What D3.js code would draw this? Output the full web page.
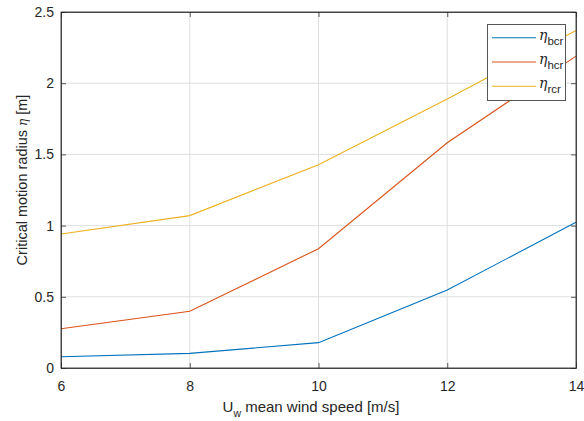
<!DOCTYPE html>
<html><head><meta charset="utf-8">
<script src="https://cdn.jsdelivr.net/npm/d3@7"></script>
<style>body{margin:0;background:#fff}svg{display:block}text{font-family:"Liberation Sans",Arial,sans-serif;fill:#262626}</style>
</head><body><svg id="c" width="584" height="421"></svg>
<script>
const windSpeed = [6, 8, 10, 12, 14];
const etaB = [0.079, 0.103, 0.178, 0.548, 1.023];
const etaH = [0.276, 0.398, 0.838, 1.582, 2.19];
const etaR = [0.941, 1.07, 1.428, 1.889, 2.37];
const xTicks = [6, 8, 10, 12, 14];
const yTicks = [0, 0.5, 1, 1.5, 2, 2.5];
const seriesNames = ["bcr", "hcr", "rcr"];
const colors = ["#0072BD", "#D95319", "#EDB120"];

const svg = d3.select("#c");
const L = 61, R = 576, T = 12, B = 368;
const x = d3.scaleLinear().domain([6, 14]).range([L, R]);
const y = d3.scaleLinear().domain([0, 2.5]).range([B, T]);

// grid
const g = svg.append("g");
g.selectAll(".vg").data(xTicks).enter().append("line")
  .attr("x1", d => x(d)).attr("x2", d => x(d)).attr("y1", T).attr("y2", B)
  .attr("stroke", "#dfdfdf").attr("stroke-width", 1);
g.selectAll(".hg").data(yTicks).enter().append("line")
  .attr("y1", d => y(d)).attr("y2", d => y(d)).attr("x1", L).attr("x2", R)
  .attr("stroke", "#dfdfdf").attr("stroke-width", 1);

// lines
const line = d3.line().x((d, i) => x(windSpeed[i])).y(d => y(d));
[etaB, etaH, etaR].forEach((s, i) => {
  svg.append("path").datum(s).attr("d", line).attr("fill", "none")
    .attr("stroke", colors[i]).attr("stroke-width", 1.1);
});

// axes with inward ticks
const ax = svg.append("g").attr("transform", `translate(0,${B})`)
  .call(d3.axisBottom(x).tickValues(xTicks).tickSizeInner(-5).tickSizeOuter(0).tickPadding(13));
const axT = svg.append("g").attr("transform", `translate(0,${T})`)
  .call(d3.axisTop(x).tickValues(xTicks).tickSizeInner(-5).tickSizeOuter(0).tickFormat(""));
const ay = svg.append("g").attr("transform", `translate(${L},0)`)
  .call(d3.axisLeft(y).tickValues(yTicks).tickSizeInner(-5).tickSizeOuter(0).tickPadding(7).tickFormat(d => d));
const ayR = svg.append("g").attr("transform", `translate(${R},0)`)
  .call(d3.axisRight(y).tickValues(yTicks).tickSizeInner(-5).tickSizeOuter(0).tickFormat(""));
[ax, axT, ay, ayR].forEach(a => {
  a.select(".domain").attr("stroke", "#262626").attr("stroke-width", 1).attr("opacity", 0.75);
  a.selectAll(".tick line").attr("stroke", "#262626").attr("opacity", 0.75);
  a.selectAll("text").attr("font-size", 14).attr("fill", "#262626")
    .attr("font-family", "'Liberation Sans',Arial,sans-serif");
});
svg.append("rect").attr("x", L).attr("y", T).attr("width", R - L).attr("height", B - T)
  .attr("fill", "none").attr("stroke", "#262626").attr("stroke-width", 1).attr("opacity", 0.75);

// axis labels
const xl = svg.append("text").attr("x", 311).attr("y", 412).attr("text-anchor", "middle").attr("font-size", 15);
xl.append("tspan").text("U");
xl.append("tspan").attr("font-size", 10.5).attr("dy", 5).text("w");
xl.append("tspan").attr("dy", -5).text(" mean wind speed [m/s]");

const yl = svg.append("text").attr("transform", `translate(27,180) rotate(-90)`)
  .attr("text-anchor", "middle").attr("font-size", 14.5);
yl.append("tspan").text("Critical motion radius ");
yl.append("tspan").attr("font-family", "'DejaVu Serif','Liberation Serif',serif").attr("font-style", "italic").attr("font-size", 12).text("η");
yl.append("tspan").text(" [m]");

// legend
const lg = svg.append("g");
lg.append("rect").attr("x", 487.5).attr("y", 24.5).attr("width", 78).attr("height", 76)
  .attr("fill", "#fff").attr("stroke", "#555").attr("stroke-width", 1);
seriesNames.forEach((n, i) => {
  const yy = 37.7 + i * 24.3;
  lg.append("line").attr("x1", 492).attr("x2", 536).attr("y1", yy).attr("y2", yy)
    .attr("stroke", colors[i]).attr("stroke-width", 1.1);
  const t = lg.append("text").attr("x", 539).attr("y", yy + 2).attr("font-size", 14);
  t.append("tspan").attr("font-family", "'DejaVu Serif','Liberation Serif',serif").attr("font-style", "italic").text("η");
  t.append("tspan").attr("font-size", 11.5).attr("dy", 5).text(n);
});
</script></body></html>
